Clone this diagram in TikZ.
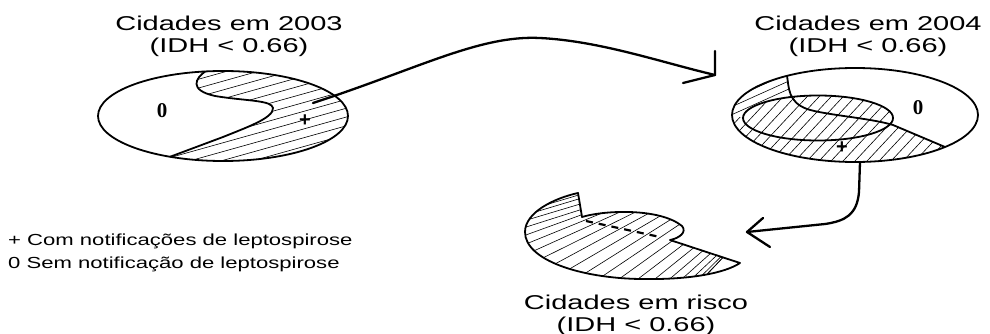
\documentclass[tikz,border=0pt]{standalone}
\usepackage{fontspec}
\setmainfont{Liberation Sans}
\newfontfamily\titlefont[FakeStretch=1.45]{Liberation Sans}
\newfontfamily\legfont[FakeStretch=1.38]{Liberation Sans}
\newfontfamily\markfont{Liberation Serif}
\begin{document}
\begin{tikzpicture}[x=1pt,y=-1pt,
  outline/.style={line width=1.8pt},
  hatchline/.style={line width=0.6pt},
  arrowline/.style={line width=2.3pt,line cap=round,line join=round},
  titlestyle/.style={align=center,inner sep=0pt,font=\titlefont\fontsize{20}{22}\selectfont},
  legstyle/.style={anchor=west,inner sep=0pt,font=\legfont\fontsize{16}{18}\selectfont},
  markstyle/.style={inner sep=0pt,font=\markfont\bfseries\fontsize{21}{21}\selectfont},
  plusstyle/.style={inner sep=0pt,font=\bfseries\fontsize{20}{20}\selectfont}]
\useasboundingbox (0,0) rectangle (990,334);
\fill[white] (0,0) rectangle (990,334);

% ---------- left ellipse (2003) ----------
\begin{scope}
  \clip (223,116) ellipse [x radius=125, y radius=45];
  \clip (205,50) -- (205,71.6) .. controls (196,78) and (188,90) .. (215,96)
        .. controls (245,101) and (272,100) .. (273,108)
        .. controls (274,118) and (245,128) .. (223,137) -- (170,156.8)
        -- (150,175) -- (360,175) -- (360,50) -- cycle;
  \foreach \k in {0,...,16} {\draw[hatchline] (90,92+8.8*\k) -- ++(280,-78.4);}
\end{scope}
\draw[outline] (223,116) ellipse [x radius=125, y radius=45];
\draw[outline] (205,71.6) .. controls (196,78) and (188,90) .. (215,96)
      .. controls (245,101) and (272,100) .. (273,108)
      .. controls (274,118) and (245,128) .. (223,137) -- (170,156.8);

% ---------- right ellipse (2004) ----------
% upper-left crescent: shallow hatching
\begin{scope}
  \clip (855,115) ellipse [x radius=123, y radius=47];
  \clip (787,30) -- (787,75.8) .. controls (789,88) and (788,102) .. (807,109)
        .. controls (825,115) and (870,118) .. (893,125) -- (945,147)
        -- (1000,160) -- (1000,200) -- (700,200) -- (700,30) -- cycle;
  \clip (700,30) rectangle (1000,118);
  \foreach \k in {0,...,14} {\draw[hatchline] (720,80+8*\k) -- ++(200,-90);}
\end{scope}
% lower part: steep hatching
\begin{scope}
  \clip (855,115) ellipse [x radius=123, y radius=47];
  \clip (787,30) -- (787,75.8) .. controls (789,88) and (788,102) .. (807,109)
        .. controls (825,115) and (870,118) .. (893,125) -- (945,147)
        -- (1000,160) -- (1000,200) -- (700,200) -- (700,30) -- cycle;
  \clip (700,118) rectangle (1000,200);
  \foreach \k in {0,...,32} {\draw[hatchline] (600+12*\k,190) -- ++(140,-150);}
\end{scope}
% inner ellipse: steep hatching
\fill[white] (818,118) ellipse [x radius=75, y radius=22.5];
\begin{scope}
  \clip (818,118) ellipse [x radius=75, y radius=22.5];
  \foreach \k in {0,...,32} {\draw[hatchline] (600+12*\k,190) -- ++(140,-150);}
\end{scope}
\draw[outline] (855,115) ellipse [x radius=123, y radius=47];
\draw[outline] (818,118) ellipse [x radius=75, y radius=22.5];
\draw[outline] (787,75.8) .. controls (789,88) and (788,102) .. (807,109)
      .. controls (825,115) and (870,118) .. (893,125) -- (945,147);

% ---------- risk shape ----------
\begin{scope}
  \clip (578,193) -- (582,217) .. controls (605,210) and (660,208) .. (682,226)
        .. controls (687,232) and (680,238) .. (670,240) -- (740,263)
        .. controls (725,273) and (690,280) .. (640,279)
        .. controls (580,278) and (525,260) .. (525,232)
        .. controls (525,212) and (555,198) .. (578,193) -- cycle;
  \foreach \p in {216,206,...,16} {
    \pgfmathsetmacro{\qx}{632+107*cos(\p)}
    \pgfmathsetmacro{\qy}{232+46*sin(\p)}
    \pgfmathsetmacro{\slp}{0.3+0.8*max(0,190-\p)/180}
    \draw[hatchline] (\qx-30,\qy+30*\slp) -- (\qx+220,\qy-220*\slp);
  }
\end{scope}
\draw[outline,line join=round] (578,193) -- (582,217) .. controls (605,210) and (660,208) .. (682,226)
      .. controls (687,232) and (680,238) .. (670,240) -- (740,263)
      .. controls (725,273) and (690,280) .. (640,279)
      .. controls (580,278) and (525,260) .. (525,232)
      .. controls (525,212) and (555,198) .. (578,193) -- cycle;
\draw[line width=2.2pt,dash pattern=on 7pt off 6pt] (586,221) -- (660,237);

% ---------- arrows ----------
\coordinate (a1s) at (313,103);
\coordinate (a1e) at (715,75);
\coordinate (a1h1) at (715,51);
\coordinate (a1h2) at (683,83);
\draw[arrowline] (a1s) .. controls (420,68) and (480,35) .. (540,38)
      .. controls (600,41) and (660,62) .. (a1e);
\draw[arrowline] (a1h1) -- (a1e) -- (a1h2);

\coordinate (a2s) at (860,162);
\coordinate (a2e) at (747,232);
\coordinate (a2h1) at (763,218);
\coordinate (a2h2) at (770,247);
\draw[arrowline] (a2s) -- (859,192) .. controls (857,215) and (845,221) .. (825,224) -- (a2e);
\draw[arrowline] (a2h1) -- (a2e) -- (a2h2);

% ---------- marks ----------
\node[markstyle] (z1) at (162,111) {0};
\node[plusstyle] (p1) at (305,121) {+};
\node[markstyle] (z2) at (918,108) {0};
\node[plusstyle] (p2) at (842,148) {+};

% ---------- texts ----------
\node[titlestyle] (t1) at (229,36) {Cidades em 2003\\(IDH < 0.66)};
\node[titlestyle] (t2) at (868,36) {Cidades em 2004\\(IDH < 0.66)};
\node[titlestyle] (t3) at (636,315) {Cidades em risco\\(IDH < 0.66)};
\node[legstyle] (l1) at (8,241) {+ Com notificações de leptospirose};
\node[legstyle] (l2) at (8,264) {0 Sem notificação de leptospirose};
\end{tikzpicture}
\end{document}
